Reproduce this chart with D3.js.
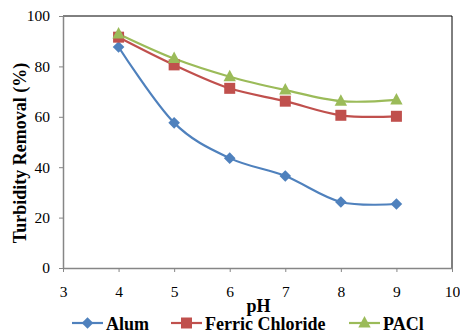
<!DOCTYPE html>
<html><head><meta charset="utf-8">
<script src="https://cdn.jsdelivr.net/npm/d3@7"></script>
<style>body{margin:0;background:#fff}svg{display:block}</style>
</head><body>
<script>
const pH = [4, 5, 6, 7, 8, 9];
const alum = [87.7, 57.6, 43.6, 36.5, 26.2, 25.4];
const ferric = [91.6, 80.6, 71.3, 66.2, 60.6, 60.2];
const pacl = [92.9, 83.1, 75.9, 70.6, 66.2, 66.7];
const xTicks = [3, 4, 5, 6, 7, 8, 9, 10];
const yTicks = [0, 20, 40, 60, 80, 100];
const seriesNames = ["Alum", "Ferric Chloride", "PACl"];

const W = 460, H = 333;
const m = {left: 63, right: 8, top: 16, bottom: 65};
const svg = d3.select("body").append("svg").attr("width", W).attr("height", H);
const x = d3.scaleLinear().domain([3, 10]).range([m.left, W - m.right]);
const y = d3.scaleLinear().domain([0, 100]).range([H - m.bottom, m.top]);
const font = "'Liberation Serif', 'Times New Roman', serif";

// frame top/right
svg.append("path")
  .attr("d", `M${x(3)},${y(100)}H${x(10)}V${y(0)}`)
  .attr("fill", "none").attr("stroke", "#000").attr("stroke-width", 1);

const xAxis = svg.append("g").attr("transform", `translate(0,${y(0)})`)
  .call(d3.axisBottom(x).tickValues(xTicks).tickFormat(d3.format("d")).tickSize(4).tickPadding(14).tickSizeOuter(0));
const yAxis = svg.append("g").attr("transform", `translate(${x(3)},0)`)
  .call(d3.axisLeft(y).tickValues(yTicks).tickFormat(d3.format("d")).tickSize(4).tickPadding(9).tickSizeOuter(0));
[xAxis, yAxis].forEach(g => {
  g.select(".domain").attr("stroke", "#868686").attr("stroke-width", 1.5);
  g.selectAll(".tick line").attr("stroke", "#868686");
  g.selectAll("text").attr("font-family", font).attr("font-size", 15.5).attr("fill", "#000");
});

svg.append("text").attr("x", (x(3) + x(10)) / 2 + 1).attr("y", 311.5)
  .attr("text-anchor", "middle").attr("font-family", font).attr("font-weight", "bold")
  .attr("font-size", 18).text("pH");
svg.append("text").attr("transform", `translate(26,153) rotate(-90)`)
  .attr("text-anchor", "middle").attr("font-family", font).attr("font-weight", "bold")
  .attr("font-size", 18).text("Turbidity Removal (%)");

const colors = ["#4F81BD", "#C0504D", "#9BBB59"];
const markerPaths = [
  "M0,-5.8L5.8,0L0,5.8L-5.8,0Z",
  "M-5.5,-5.5H5.5V5.5H-5.5Z",
  "M0,-7L6.2,4.5H-6.2Z"
];
const data = [alum, ferric, pacl];
const line = d3.line().x((d, i) => x(pH[i])).y(d => y(d)).curve(d3.curveCatmullRom.alpha(0));

data.forEach((vals, k) => {
  svg.append("path").datum(vals).attr("d", line).attr("fill", "none")
    .attr("stroke", colors[k]).attr("stroke-width", 2.2);
});
data.forEach((vals, k) => {
  svg.selectAll(null).data(vals).enter().append("path")
    .attr("transform", (d, i) => `translate(${x(pH[i])},${y(d)})`)
    .attr("d", markerPaths[k]).attr("fill", colors[k]);
});

// legend
const legX = [72, 171, 349];
seriesNames.forEach((n, k) => {
  const g = svg.append("g").attr("transform", `translate(${legX[k]},323)`);
  g.append("line").attr("x1", 0).attr("x2", 31).attr("stroke", colors[k]).attr("stroke-width", 2.2);
  g.append("path").attr("transform", "translate(15.5,0)")
    .attr("d", markerPaths[k]).attr("fill", colors[k]);
  g.append("text").attr("x", 34).attr("y", 7).attr("font-family", font).attr("font-weight", "bold")
    .attr("font-size", 18).text(n);
});
</script>
</body></html>
